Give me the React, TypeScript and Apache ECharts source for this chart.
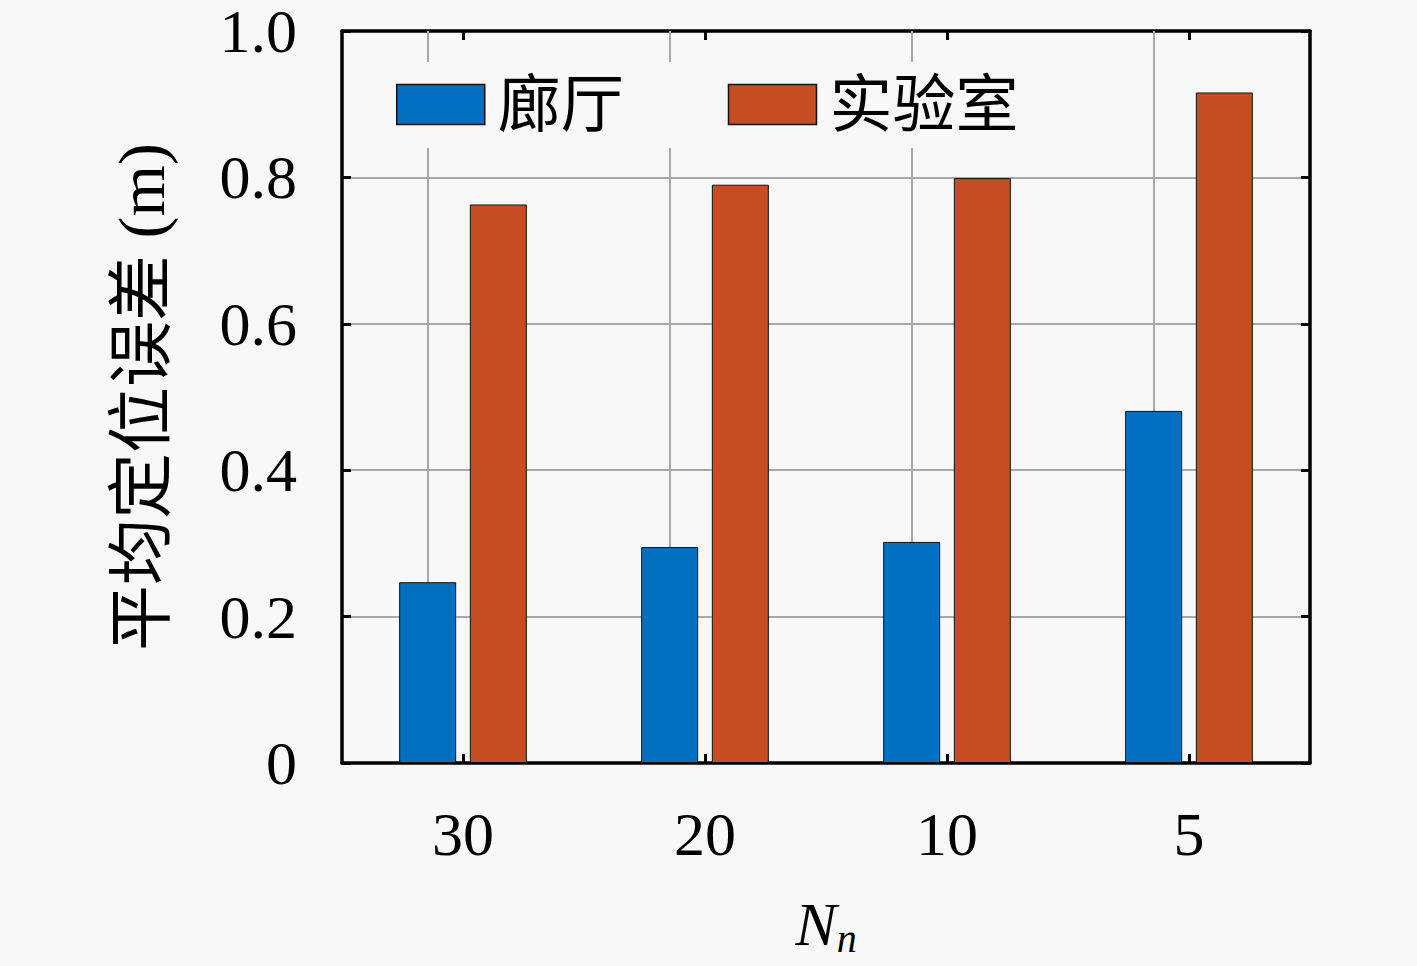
import React, { useEffect, useRef } from "react";
import * as echarts from "echarts";

const categories = ["30", "20", "10", "5"];
const hallway = [0.247, 0.295, 0.302, 0.481];
const lab = [0.763, 0.79, 0.799, 0.916];
const seriesNames = ["廊厅", "实验室"];

const SERIF = "'Liberation Serif', 'Times New Roman', 'Noto Sans CJK SC', serif";
const BG = "#f8f8f8";

export default function App() {
  const ref = useRef<HTMLDivElement>(null);
  useEffect(() => {
    if (!ref.current) return;
    const chart = echarts.init(ref.current, null, { renderer: "svg" });
    const tickStyle = { show: true, inside: true, length: 9, lineStyle: { color: "#000", width: 3 } };
    const axisLine = { show: true, onZero: false, lineStyle: { color: "#000", width: 3.5 } };
    chart.setOption({
      animation: false,
      backgroundColor: BG,
      textStyle: { fontFamily: SERIF },
      grid: { left: 342, right: 107, top: 31, bottom: 203, containLabel: false },
      legend: {
        left: 376,
        top: 62,
        orient: "horizontal",
        backgroundColor: BG,
        padding: [11, 20, 12, 20],
        itemWidth: 88,
        itemHeight: 40,
        itemGap: 104,
        icon: "rect",
        data: seriesNames,
        textStyle: { fontFamily: SERIF, fontSize: 63, color: "#000", lineHeight: 62, padding: [0, 0, 0, 8] },
        itemStyle: { borderColor: "#111", borderWidth: 1.5 },
      },
      xAxis: [
        {
          type: "category",
          data: categories,
          position: "bottom",
          axisLine,
          axisTick: { ...tickStyle, alignWithLabel: true },
          axisLabel: { fontFamily: SERIF, fontSize: 62, color: "#000", margin: 40 },
          splitLine: { show: false },
          name: "{N|N}{s|n}",
          nameLocation: "middle",
          nameGap: 126,
          nameTextStyle: {
            rich: {
              N: { fontFamily: SERIF, fontStyle: "italic", fontSize: 62, color: "#000" },
              s: { fontFamily: SERIF, fontStyle: "italic", fontSize: 40, color: "#000", padding: [30, 0, 0, 0] },
            },
          },
        },
        {
          type: "category",
          data: categories,
          position: "top",
          axisLine,
          axisTick: { ...tickStyle, alignWithLabel: true },
          axisLabel: { show: false },
          splitLine: { show: false },
        },
      ],
      yAxis: [
        {
          type: "value",
          min: 0,
          max: 1,
          interval: 0.2,
          position: "left",
          axisLine,
          axisTick: tickStyle,
          axisLabel: {
            fontFamily: SERIF,
            fontSize: 62,
            lineHeight: 50,
            color: "#000",
            margin: 45,
            formatter: (v: number) => (v === 0 ? "0" : v.toFixed(1)),
          },
          splitLine: { show: true, lineStyle: { color: "#a8a8a8", width: 2 } },
          name: "平均定位误差 (m)",
          nameLocation: "middle",
          nameGap: 168,
          nameTextStyle: { fontFamily: SERIF, fontSize: 66, color: "#000" },
        },
        {
          type: "value",
          min: 0,
          max: 1,
          interval: 0.2,
          position: "right",
          axisLine,
          axisTick: tickStyle,
          axisLabel: { show: false },
          splitLine: { show: false },
        },
      ],
      series: [
        {
          name: seriesNames[0],
          type: "bar",
          data: hallway,
          barWidth: 57,
          barGap: "24%",
          itemStyle: { color: "#0071C1", borderColor: "#111", borderWidth: 1 },
          markLine: {
            silent: true,
            symbol: "none",
            label: { show: false },
            lineStyle: { color: "#a8a8a8", width: 2, type: "solid" },
            data: categories.map((c) => ({ xAxis: c })),
            z: 1,
          },
          z: 2,
        },
        {
          name: seriesNames[1],
          type: "bar",
          data: lab,
          barWidth: 57,
          barGap: "24%",
          itemStyle: { color: "#C64C22", borderColor: "#111", borderWidth: 1 },
          z: 2,
        },
      ],
    });
    return () => chart.dispose();
  }, []);
  return (
    <div
      ref={ref}
      style={{ position: "fixed", left: 0, top: 0, width: 1417, height: 966, background: BG }}
    />
  );
}
